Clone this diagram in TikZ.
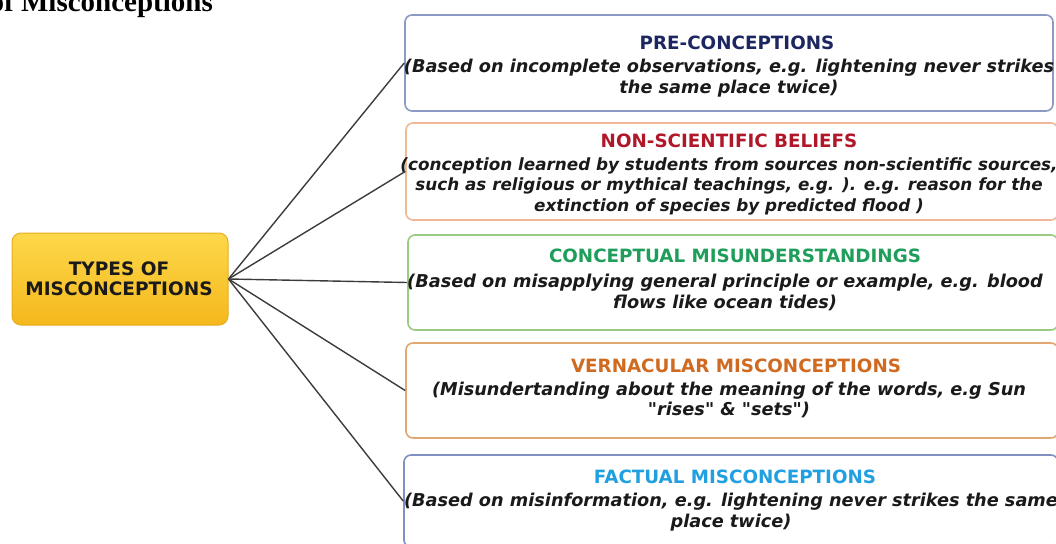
\documentclass[tikz,border=0pt]{standalone}
\usepackage{fontspec}
\setmainfont{Liberation Serif}
\newfontfamily\boxfont{DejaVu Sans}
\newfontfamily\hubfont{DejaVu Sans}
\definecolor{borderA}{HTML}{8A9AC4}
\definecolor{titleA}{HTML}{1C2660}
\definecolor{borderB}{HTML}{F0B898}
\definecolor{titleB}{HTML}{B0182A}
\definecolor{borderC}{HTML}{9ACB80}
\definecolor{titleC}{HTML}{1E9E5A}
\definecolor{borderD}{HTML}{E0A870}
\definecolor{titleD}{HTML}{D06A20}
\definecolor{borderE}{HTML}{8090C0}
\definecolor{titleE}{HTML}{20A0E0}
\definecolor{hubtop}{HTML}{FCD84A}
\definecolor{hubbot}{HTML}{F5B81C}
\definecolor{hubline}{HTML}{E6AE1E}
\definecolor{bodytext}{HTML}{1A1A1A}
\definecolor{linkcol}{HTML}{3C3C3C}
\begin{document}
\begin{tikzpicture}[x=1pt,y=-1pt,
  box/.style={draw, line width=1.6pt, rounded corners=7pt, fill=white, inner sep=0pt},
  ttl/.style={font=\boxfont\bfseries\fontsize{18.3}{21}\selectfont, inner sep=0pt},
  body/.style={font=\boxfont\bfseries\itshape\fontsize{17.7}{20.5}\selectfont, align=center, inner sep=0pt, text=bodytext},
  link/.style={draw=linkcol, line width=1.4pt}]
\useasboundingbox (0,0) rectangle (1056,543);
% heading (cut off at the top of the page, as in the reference)
\node[anchor=base east, inner sep=0pt, font=\bfseries\fontsize{29}{32}\selectfont] (heading) at (213,12) {of Misconceptions};
% central box
\node[draw=hubline, line width=1pt, rounded corners=9pt, top color=hubtop, bottom color=hubbot,
      minimum width=216pt, minimum height=92pt, inner sep=0pt] (hub) at (120,279) {};
\node[font=\hubfont\bfseries\fontsize{18.5}{20.5}\selectfont, align=center, text=bodytext, inner sep=0pt] (hubtext) at (119,279) {TYPES OF\\MISCONCEPTIONS};
% boxes
\node[box, draw=borderA, minimum width=648pt, minimum height=96pt] (b1) at (729,63) {};
\node[box, draw=borderB, minimum width=652pt, minimum height=97pt] (b2) at (732,171.5) {};
\node[box, draw=borderC, minimum width=650pt, minimum height=95pt] (b3) at (733,282.5) {};
\node[box, draw=borderD, minimum width=652pt, minimum height=95pt] (b4) at (732,390.5) {};
\node[box, draw=borderE, minimum width=654pt, minimum height=92pt] (b5) at (731,501) {};
% titles
\node[ttl, text=titleA] (t1) at (737,43) {PRE-CONCEPTIONS};
\node[ttl, text=titleB] (t2) at (729,141) {NON-SCIENTIFIC BELIEFS};
\node[ttl, text=titleC] (t3) at (735,256) {CONCEPTUAL MISUNDERSTANDINGS};
\node[ttl, text=titleD] (t4) at (736,366) {VERNACULAR MISCONCEPTIONS};
\node[ttl, text=titleE] (t5) at (735,477) {FACTUAL MISCONCEPTIONS};
% bodies
\node[body] (d1) at (729,78) {(Based on incomplete observations, e.g. lightening never strikes\\the same place twice)};
\node[body, font=\boxfont\bfseries\itshape\fontsize{16.8}{20.5}\selectfont] (d2) at (729,186) {(conception learned by students from sources non-scientific sources,\\such as religious or mythical teachings, e.g. ). e.g. reason for the\\extinction of species by predicted flood )};
\node[body] (d3) at (725,292.5) {(Based on misapplying general principle or example, e.g. blood\\flows like ocean tides)};
\node[body] (d4) at (729,400) {(Misundertanding about the meaning of the words, e.g Sun\\"rises" \& "sets")};
\node[body] (d5) at (731,512) {(Based on misinformation, e.g. lightening never strikes the same\\place twice)};
% connectors
\draw[link] (hub.east) -- (b1.west);
\draw[link] (hub.east) -- (b2.west);
\draw[link] (hub.east) -- (b3.west);
\draw[link] (hub.east) -- (b4.west);
\draw[link] (hub.east) -- (b5.west);
\end{tikzpicture}
\end{document}
